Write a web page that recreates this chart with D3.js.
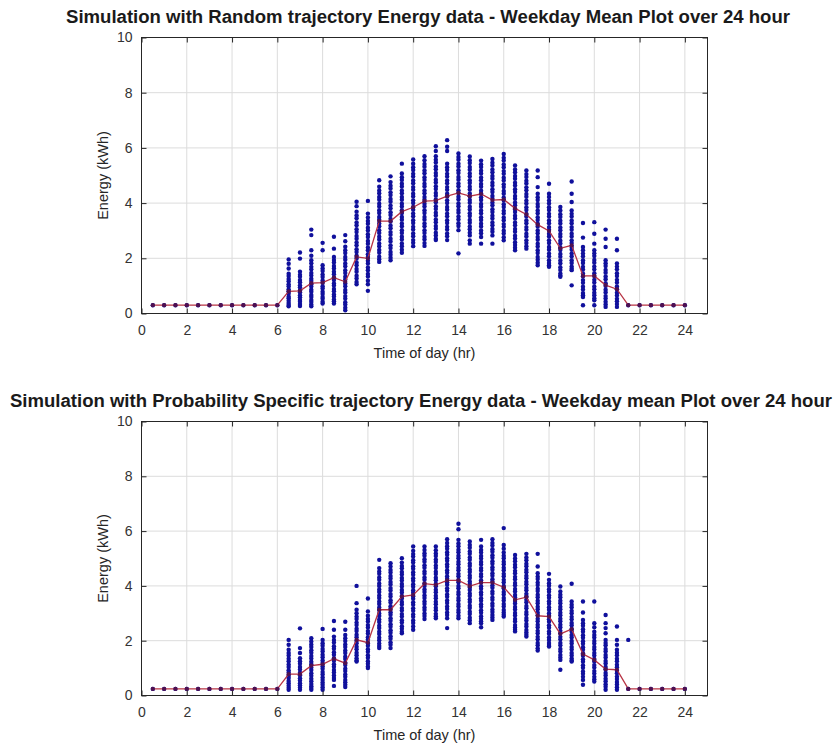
<!DOCTYPE html>
<html><head><meta charset="utf-8">
<script src="https://cdn.jsdelivr.net/npm/d3@7/dist/d3.min.js"></script>
<style>body{margin:0;background:#fff}svg{display:block}</style>
</head><body>
<svg id="chart" width="837" height="749"></svg>
<script>
// ---------------- data ----------------
const hours = [0.5,1,1.5,2,2.5,3,3.5,4,4.5,5,5.5,6,6.5,7,7.5,8,8.5,9,9.5,10,10.5,11,11.5,12,12.5,13,13.5,14,14.5,15,15.5,16,16.5,17,17.5,18,18.5,19,19.5,20,20.5,21,21.5,22,22.5,23,23.5,24];
const xTickValues = [0,2,4,6,8,10,12,14,16,18,20,22,24];
const yTickValues = [0,2,4,6,8,10];
const titleRandom = "Simulation with Random trajectory Energy data - Weekday Mean Plot over 24 hour";
const titleProb = "Simulation with Probability Specific trajectory Energy data - Weekday mean Plot over 24 hour";
const xLabel = "Time of day (hr)";
const yLabel = "Energy (kWh)";

const meanRandom = [0.3,0.3,0.3,0.3,0.3,0.3,0.3,0.3,0.3,0.3,0.3,0.3,
  0.80,0.82,1.10,1.12,1.30,1.15,2.05,2.00,3.35,3.35,3.69,3.85,4.07,4.09,4.25,4.37,4.25,4.33,4.11,4.13,3.81,3.59,3.22,2.99,2.36,2.47,1.36,1.36,1.03,0.88,
  0.3,0.3,0.3,0.3,0.3,0.3];

const pointsRandom = [
 [0.3],[0.3],[0.3],[0.3],[0.3],[0.3],[0.3],[0.3],[0.3],[0.3],[0.3],[0.3],
 [1.96,1.80,1.63,1.44,1.36,1.25,1.17,1.06,0.99,0.88,0.81,0.72,0.61,0.55,0.46,0.38,0.31,0.26],
 [2.21,1.99,1.51,1.40,1.33,1.21,1.13,1.02,0.95,0.84,0.77,0.66,0.59,0.49,0.43,0.34,0.27],
 [3.04,2.84,2.29,2.09,1.93,1.82,1.69,1.60,1.47,1.38,1.26,1.18,1.06,0.98,0.86,0.79,0.67,0.60,0.49,0.42,0.33,0.26],
 [2.56,2.29,1.75,1.63,1.54,1.41,1.32,1.20,1.11,0.99,0.91,0.79,0.71,0.60,0.53,0.43,0.36],
 [2.78,2.35,2.05,1.94,1.85,1.72,1.63,1.51,1.42,1.30,1.21,1.09,1.01,0.89,0.81,0.69,0.62,0.51,0.44,0.36],
 [2.84,2.62,2.42,2.29,2.19,2.05,1.95,1.81,1.71,1.57,1.47,1.33,1.23,1.09,0.99,0.85,0.76,0.63,0.54,0.41,0.33,0.21,0.12],
 [4.05,3.89,3.69,3.55,3.45,3.30,3.20,3.05,2.95,2.81,2.71,2.57,2.47,2.33,2.23,2.09,1.99,1.85,1.75,1.61,1.51,1.37,1.27,1.14,1.06],
 [4.08,3.62,3.48,3.35,3.25,3.11,3.01,2.87,2.77,2.63,2.53,2.39,2.29,2.15,2.05,1.91,1.81,1.67,1.57,1.43,1.34,1.19,1.06,0.82],
 [4.83,4.59,4.46,4.36,4.22,4.12,3.98,3.88,3.74,3.64,3.50,3.40,3.26,3.16,3.02,2.92,2.78,2.68,2.54,2.44,2.30,2.20,2.06,1.97,1.87],
 [4.97,4.76,4.63,4.53,4.39,4.29,4.15,4.05,3.91,3.81,3.67,3.57,3.43,3.33,3.19,3.09,2.95,2.85,2.71,2.61,2.47,2.37,2.23,2.13,2.02,1.93],
 [5.43,5.07,4.94,4.84,4.70,4.60,4.46,4.36,4.22,4.12,3.98,3.88,3.74,3.64,3.50,3.40,3.26,3.16,3.02,2.92,2.78,2.68,2.54,2.44,2.31,2.20],
 [5.58,5.43,5.30,5.20,5.06,4.96,4.82,4.72,4.58,4.48,4.34,4.24,4.10,4.00,3.86,3.76,3.62,3.52,3.38,3.28,3.14,3.04,2.90,2.80,2.66,2.56,2.44],
 [5.70,5.55,5.42,5.32,5.18,5.08,4.94,4.84,4.70,4.60,4.46,4.36,4.22,4.12,3.98,3.88,3.74,3.64,3.50,3.40,3.26,3.16,3.02,2.92,2.78,2.68,2.55,2.45],
 [6.06,5.89,5.70,5.57,5.47,5.33,5.23,5.09,4.99,4.85,4.75,4.61,4.51,4.37,4.27,4.13,4.03,3.89,3.79,3.65,3.55,3.41,3.31,3.17,3.07,2.93,2.83,2.71,2.66],
 [6.28,6.04,5.89,5.43,5.30,5.20,5.06,4.96,4.82,4.72,4.58,4.48,4.34,4.24,4.10,4.00,3.86,3.76,3.62,3.52,3.38,3.28,3.14,3.04,2.90,2.80,2.66],
 [5.80,5.67,5.57,5.43,5.33,5.19,5.09,4.95,4.85,4.71,4.61,4.47,4.37,4.23,4.13,3.99,3.89,3.75,3.65,3.51,3.41,3.27,3.17,3.02,2.18],
 [5.69,5.55,5.45,5.31,5.21,5.07,4.97,4.83,4.73,4.59,4.49,4.35,4.25,4.11,4.01,3.87,3.77,3.63,3.53,3.39,3.29,3.15,3.05,2.93,2.83,2.65,2.53],
 [5.54,5.41,5.31,5.17,5.07,4.93,4.83,4.69,4.59,4.45,4.35,4.21,4.11,3.97,3.87,3.73,3.63,3.49,3.39,3.25,3.15,3.01,2.91,2.77,2.53],
 [5.60,5.46,5.36,5.22,5.12,4.98,4.88,4.74,4.64,4.50,4.40,4.26,4.16,4.02,3.92,3.78,3.68,3.54,3.44,3.30,3.20,3.06,2.96,2.83,2.53],
 [5.78,5.64,5.54,5.40,5.30,5.16,5.06,4.92,4.82,4.68,4.58,4.44,4.34,4.20,4.10,3.96,3.86,3.72,3.62,3.48,3.38,3.24,3.14,3.00,2.90,2.76,2.65],
 [5.36,5.22,5.12,4.98,4.88,4.74,4.64,4.50,4.40,4.26,4.16,4.02,3.92,3.78,3.68,3.54,3.44,3.30,3.20,3.06,2.96,2.82,2.72,2.58,2.48,2.38,2.29],
 [5.18,5.05,4.95,4.81,4.71,4.57,4.47,4.33,4.23,4.09,3.99,3.85,3.75,3.61,3.51,3.37,3.27,3.13,3.03,2.89,2.79,2.65,2.55,2.44,2.35],
 [5.18,4.94,4.58,4.34,4.21,4.11,3.97,3.87,3.73,3.63,3.49,3.39,3.25,3.15,3.01,2.91,2.77,2.67,2.53,2.43,2.29,2.19,2.05,1.95,1.84,1.75],
 [4.70,4.34,4.22,4.09,3.99,3.85,3.75,3.61,3.51,3.37,3.27,3.13,3.03,2.89,2.79,2.65,2.55,2.41,2.31,2.17,2.07,1.93,1.83,1.75,1.69],
 [3.86,3.73,3.60,3.50,3.36,3.26,3.12,3.02,2.88,2.78,2.64,2.54,2.40,2.30,2.16,2.06,1.92,1.82,1.68,1.58,1.45,1.38,1.33],
 [4.78,4.34,4.04,3.73,3.61,3.51,3.37,3.27,3.13,3.03,2.89,2.79,2.65,2.55,2.41,2.31,2.17,2.07,1.93,1.83,1.70,1.62,1.57,1.02],
 [3.28,2.75,2.41,2.29,2.17,2.07,1.93,1.83,1.69,1.59,1.45,1.35,1.21,1.11,0.97,0.87,0.74,0.66,0.60,0.30],
 [3.31,2.89,2.53,2.29,2.18,2.08,1.94,1.84,1.70,1.60,1.46,1.36,1.22,1.12,0.98,0.88,0.75,0.66,0.55,0.48,0.30],
 [3.04,2.71,2.41,1.93,1.82,1.72,1.58,1.48,1.34,1.24,1.10,1.00,0.86,0.76,0.63,0.54,0.43,0.33,0.24],
 [2.71,2.29,1.81,1.70,1.60,1.46,1.36,1.22,1.12,0.98,0.88,0.75,0.65,0.53,0.44,0.34,0.24],
 [0.3],[0.3],[0.3],[0.3],[0.3],[0.3]
];

const meanProb = [0.24,0.24,0.24,0.24,0.24,0.24,0.24,0.24,0.24,0.24,0.24,0.24,
  0.78,0.78,1.09,1.14,1.34,1.18,2.03,1.93,3.13,3.13,3.61,3.67,4.08,4.04,4.20,4.20,3.99,4.12,4.12,3.95,3.49,3.59,2.91,2.88,2.25,2.42,1.51,1.30,0.96,0.94,
  0.24,0.24,0.24,0.24,0.24,0.24];

const pointsProb = [
 [0.24],[0.24],[0.24],[0.24],[0.24],[0.24],[0.24],[0.24],[0.24],[0.24],[0.24],[0.24],
 [2.03,1.85,1.67,1.55,1.46,1.34,1.25,1.13,1.04,0.92,0.84,0.72,0.64,0.53,0.45,0.36,0.28,0.21],
 [2.45,1.73,1.55,1.36,1.25,1.16,1.04,0.95,0.83,0.74,0.63,0.55,0.45,0.37,0.29,0.21],
 [2.09,1.97,1.86,1.77,1.65,1.56,1.44,1.35,1.23,1.14,1.02,0.93,0.81,0.72,0.61,0.52,0.42,0.34,0.27,0.21],
 [2.43,2.03,1.91,1.82,1.70,1.61,1.49,1.40,1.28,1.19,1.07,0.98,0.86,0.77,0.66,0.57,0.47,0.39,0.30,0.21],
 [2.72,2.40,2.15,2.03,1.93,1.80,1.71,1.58,1.49,1.36,1.27,1.14,1.05,0.93,0.84,0.73,0.64,0.57,0.35],
 [2.69,2.40,2.21,2.09,1.99,1.86,1.77,1.64,1.55,1.42,1.33,1.20,1.11,0.98,0.89,0.77,0.68,0.57,0.48,0.39,0.31],
 [4.00,3.37,3.13,3.00,2.88,2.79,2.66,2.57,2.44,2.35,2.22,2.13,2.00,1.91,1.78,1.69,1.56,1.47,1.36,1.28,1.24],
 [3.54,3.07,2.91,2.79,2.70,2.57,2.48,2.35,2.26,2.13,2.04,1.91,1.82,1.69,1.60,1.47,1.38,1.25,1.16,1.06,1.00],
 [4.95,4.65,4.53,4.44,4.31,4.22,4.09,4.00,3.87,3.78,3.65,3.56,3.43,3.34,3.21,3.12,2.99,2.90,2.77,2.68,2.55,2.46,2.33,2.24,2.11,2.02,1.90,1.81,1.73],
 [4.83,4.71,4.58,4.49,4.36,4.27,4.14,4.05,3.92,3.83,3.70,3.61,3.48,3.39,3.26,3.17,3.04,2.95,2.82,2.73,2.60,2.51,2.38,2.29,2.16,2.07,1.94,1.85,1.73],
 [5.01,4.85,4.73,4.64,4.51,4.42,4.29,4.20,4.07,3.98,3.85,3.76,3.63,3.54,3.41,3.32,3.19,3.10,2.97,2.88,2.75,2.66,2.53,2.44,2.33,2.27],
 [5.44,5.28,5.16,5.07,4.94,4.85,4.72,4.63,4.50,4.41,4.28,4.19,4.06,3.97,3.84,3.75,3.62,3.53,3.40,3.31,3.18,3.09,2.96,2.87,2.74,2.65,2.52,2.40],
 [5.44,5.31,5.19,5.10,4.97,4.88,4.75,4.66,4.53,4.44,4.31,4.22,4.09,4.00,3.87,3.78,3.65,3.56,3.43,3.34,3.21,3.12,2.99,2.90,2.79],
 [5.44,5.30,5.18,5.09,4.96,4.87,4.74,4.65,4.52,4.43,4.30,4.21,4.08,3.99,3.86,3.77,3.64,3.55,3.42,3.33,3.20,3.11,2.98,2.89,2.82],
 [5.70,5.57,5.45,5.36,5.23,5.14,5.01,4.92,4.79,4.70,4.57,4.48,4.35,4.26,4.13,4.04,3.91,3.82,3.69,3.60,3.47,3.38,3.25,3.16,3.03,2.94,2.82,2.46],
 [6.27,6.07,5.68,5.55,5.45,5.32,5.23,5.10,5.01,4.88,4.79,4.66,4.57,4.44,4.35,4.22,4.13,4.00,3.91,3.78,3.69,3.56,3.47,3.34,3.25,3.12,3.03,2.91,2.82],
 [5.62,5.49,5.39,5.26,5.17,5.04,4.95,4.82,4.73,4.60,4.51,4.38,4.29,4.16,4.07,3.94,3.85,3.72,3.63,3.50,3.41,3.28,3.19,3.06,2.97,2.84,2.75,2.64],
 [5.68,5.44,5.31,5.22,5.09,5.00,4.87,4.78,4.65,4.56,4.43,4.34,4.21,4.12,3.99,3.90,3.77,3.68,3.55,3.46,3.33,3.24,3.11,3.02,2.89,2.80,2.71,2.64,2.49],
 [5.70,5.57,5.47,5.34,5.25,5.12,5.03,4.90,4.81,4.68,4.59,4.46,4.37,4.24,4.15,4.02,3.93,3.80,3.71,3.58,3.49,3.36,3.27,3.14,3.05,2.94,2.85,2.76],
 [6.11,5.49,5.36,5.22,5.10,5.01,4.88,4.79,4.66,4.57,4.44,4.35,4.22,4.13,4.00,3.91,3.78,3.69,3.56,3.47,3.34,3.25,3.12,3.03,2.95,2.88],
 [5.13,5.00,4.90,4.77,4.68,4.55,4.46,4.33,4.24,4.11,4.02,3.89,3.80,3.67,3.58,3.45,3.36,3.23,3.14,3.01,2.92,2.79,2.70,2.57,2.48,2.40,2.34],
 [5.17,5.04,4.94,4.81,4.72,4.59,4.50,4.37,4.28,4.15,4.06,3.93,3.84,3.71,3.62,3.49,3.40,3.27,3.18,3.05,2.96,2.83,2.74,2.61,2.52,2.39,2.30,2.22,2.15],
 [5.17,4.71,4.46,4.34,4.25,4.12,4.03,3.90,3.81,3.68,3.59,3.46,3.37,3.24,3.15,3.02,2.93,2.80,2.71,2.58,2.49,2.36,2.27,2.14,2.05,1.92,1.83,1.72,1.64],
 [4.44,4.22,4.10,4.01,3.88,3.79,3.66,3.57,3.44,3.35,3.22,3.13,3.00,2.91,2.78,2.69,2.56,2.47,2.34,2.25,2.12,2.03,1.92,1.84,1.79],
 [3.98,3.80,3.68,3.59,3.46,3.37,3.24,3.15,3.02,2.93,2.80,2.71,2.58,2.49,2.36,2.27,2.14,2.05,1.92,1.83,1.70,1.61,1.48,1.39,1.30,0.94],
 [4.08,3.43,3.31,3.22,3.09,3.00,2.87,2.78,2.65,2.56,2.43,2.34,2.21,2.12,1.99,1.90,1.77,1.68,1.55,1.46,1.35,1.28,1.24],
 [3.43,3.03,2.76,2.64,2.55,2.42,2.33,2.20,2.11,1.98,1.89,1.76,1.67,1.54,1.45,1.32,1.23,1.10,1.01,0.88,0.79,0.68,0.57,0.39],
 [3.43,2.64,2.49,2.33,2.21,2.12,1.99,1.90,1.77,1.68,1.55,1.46,1.33,1.24,1.11,1.02,0.89,0.80,0.68,0.59,0.51],
 [2.94,2.64,2.46,2.27,2.03,1.92,1.83,1.70,1.61,1.48,1.39,1.26,1.17,1.04,0.95,0.82,0.73,0.61,0.52,0.41,0.32,0.21],
 [2.52,2.03,1.85,1.67,1.56,1.47,1.34,1.25,1.12,1.03,0.90,0.81,0.69,0.60,0.49,0.40,0.30,0.21],
 [2.03,0.24],[0.24],[0.24],[0.24],[0.24],[0.24]
];

// ---------------- layout ----------------
const panels = [
  {title: titleRandom, means: meanRandom, points: pointsRandom,
   top: 37.5, bottom: 313.5, titleX: 428, titleY: 23, titleLen: 724},
  {title: titleProb, means: meanProb, points: pointsProb,
   top: 421.5, bottom: 695.5, titleX: 421, titleY: 407, titleLen: 822}
];
const left = 141.5, right = 707.5;
const svg = d3.select("#chart");
const textColor = "#262626";

panels.forEach(p => {
  const g = svg.append("g");
  const x = d3.scaleLinear().domain([0, 25]).range([left, right]);
  const y = d3.scaleLinear().domain([0, 10]).range([p.bottom, p.top]);

  // grid
  g.append("g").selectAll("line.v").data(xTickValues.filter(d => d > 0)).join("line")
    .attr("x1", d => x(d)).attr("x2", d => x(d)).attr("y1", p.top).attr("y2", p.bottom)
    .attr("stroke", "#dcdcdc").attr("stroke-width", 1);
  g.append("g").selectAll("line.h").data(yTickValues.filter(d => d > 0 && d < 10)).join("line")
    .attr("x1", left).attr("x2", right).attr("y1", d => y(d)).attr("y2", d => y(d))
    .attr("stroke", "#dcdcdc").attr("stroke-width", 1);

  // scatter points
  const pts = [];
  p.points.forEach((arr, i) => arr.forEach(v => pts.push([hours[i], v])));
  g.append("g").selectAll("circle").data(pts).join("circle")
    .attr("cx", d => x(d[0])).attr("cy", d => y(d[1])).attr("r", 2.2)
    .attr("fill", "#10109c");

  // mean line
  const line = d3.line().x((d, i) => x(hours[i])).y(d => y(d));
  g.append("path").datum(p.means).attr("d", line)
    .attr("fill", "none").attr("stroke", "#b83444").attr("stroke-width", 1.3);
  g.append("g").selectAll("circle").data(p.means).join("circle")
    .attr("cx", (d, i) => x(hours[i])).attr("cy", d => y(d)).attr("r", 2.1)
    .attr("fill", "#4e1050");

  // axes (inward ticks)
  const fmt = d3.format("d");
  const ax = (sel) => { sel.select(".domain").remove(); sel.selectAll(".tick line").attr("stroke", textColor); sel.selectAll("text").attr("fill", "#333").style("font-family", "'Liberation Sans', Arial, sans-serif").style("font-size", "14px"); };
  g.append("g").attr("transform", `translate(0,${p.bottom})`)
    .call(d3.axisBottom(x).tickValues(xTickValues).tickFormat(fmt).tickSize(-5).tickPadding(12)).call(ax);
  g.append("g").attr("transform", `translate(0,${p.top})`)
    .call(d3.axisTop(x).tickValues(xTickValues).tickFormat("").tickSize(-5)).call(ax);
  g.append("g").attr("transform", `translate(${left},0)`)
    .call(d3.axisLeft(y).tickValues(yTickValues).tickFormat(fmt).tickSize(-5).tickPadding(9)).call(ax);
  g.append("g").attr("transform", `translate(${right},0)`)
    .call(d3.axisRight(y).tickValues(yTickValues).tickFormat("").tickSize(-5)).call(ax);

  // frame
  g.append("rect").attr("x", left).attr("y", p.top).attr("width", right - left).attr("height", p.bottom - p.top)
    .attr("fill", "none").attr("stroke", textColor).attr("stroke-width", 1);

  // labels
  g.append("text").attr("x", (left + right) / 2).attr("y", p.bottom + 44)
    .attr("text-anchor", "middle").attr("fill", textColor)
    .style("font-family", "'Liberation Sans', Arial, sans-serif").style("font-size", "14.5px").text(xLabel);
  g.append("text").attr("transform", `translate(108,${(p.top + p.bottom) / 2}) rotate(-90)`)
    .attr("text-anchor", "middle").attr("fill", textColor)
    .style("font-family", "'Liberation Sans', Arial, sans-serif").style("font-size", "14.5px").text(yLabel);

  // title
  g.append("text").attr("x", p.titleX).attr("y", p.titleY)
    .attr("text-anchor", "middle").attr("fill", "#1a1a1a")
    .attr("textLength", p.titleLen).attr("lengthAdjust", "spacingAndGlyphs")
    .style("font-family", "'Liberation Sans Narrow', 'Liberation Sans', Arial, sans-serif")
    .style("font-weight", "bold").style("font-size", "18px").text(p.title);
});
</script>
</body></html>
